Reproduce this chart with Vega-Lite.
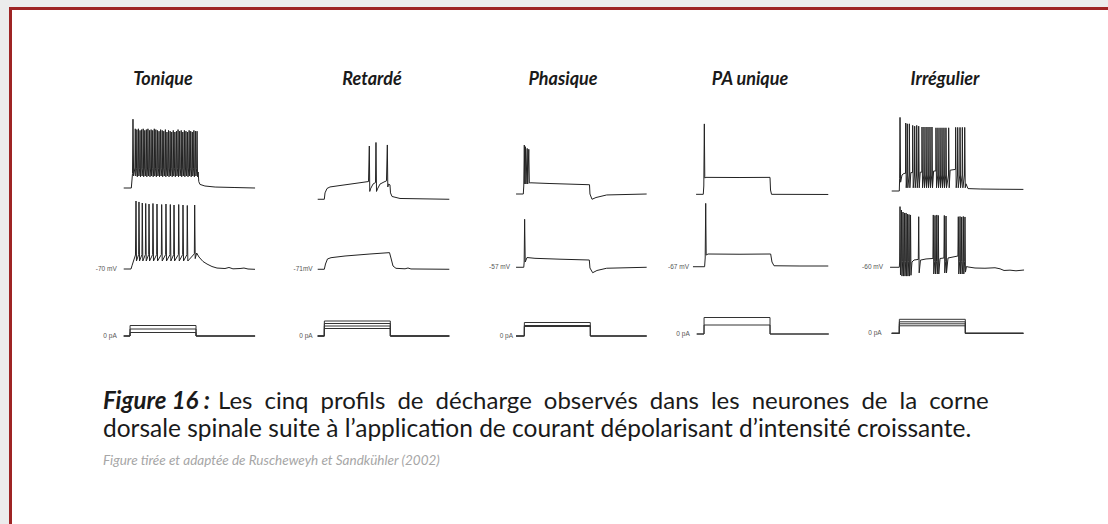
{
"$schema":"https://vega.github.io/schema/vega-lite/v6.json",
"padding":0,
"background":"#ffffff",
"config":{"view":{"stroke":null}},
"datasets":{
"T1":[{"t":-95,"v":-70},{"t":20,"v":-70},{"t":30,"v":-60},{"t":38,"v":-52},{"t":45,"v":16},{"t":55,"v":-55},
{"t":74,"v":-45},{"t":80,"v":4},{"t":87,"v":-55},{"t":98,"v":-46},{"t":104,"v":3},{"t":111,"v":-56},
{"t":122,"v":-45},{"t":128,"v":4},{"t":135,"v":-55},{"t":146,"v":-46},{"t":152,"v":2},{"t":159,"v":-56},
{"t":170,"v":-45},{"t":176,"v":3},{"t":183,"v":-55},{"t":194,"v":-46},{"t":200,"v":4},{"t":207,"v":-56},
{"t":218,"v":-45},{"t":224,"v":2},{"t":231,"v":-55},{"t":242,"v":-46},{"t":248,"v":3},{"t":255,"v":-56},
{"t":266,"v":-45},{"t":272,"v":4},{"t":279,"v":-55},{"t":290,"v":-46},{"t":296,"v":2},{"t":303,"v":-56},
{"t":314,"v":-45},{"t":320,"v":3},{"t":327,"v":-55},{"t":338,"v":-46},{"t":344,"v":2},{"t":351,"v":-56},
{"t":362,"v":-45},{"t":368,"v":4},{"t":375,"v":-55},{"t":386,"v":-46},{"t":392,"v":3},{"t":399,"v":-56},
{"t":410,"v":-45},{"t":416,"v":2},{"t":423,"v":-55},{"t":434,"v":-46},{"t":440,"v":1},{"t":447,"v":-56},
{"t":458,"v":-45},{"t":464,"v":3},{"t":471,"v":-55},{"t":482,"v":-46},{"t":488,"v":2},{"t":495,"v":-56},
{"t":506,"v":-45},{"t":512,"v":1},{"t":519,"v":-55},{"t":530,"v":-46},{"t":536,"v":3},{"t":543,"v":-56},
{"t":554,"v":-45},{"t":560,"v":0},{"t":567,"v":-55},{"t":578,"v":-46},{"t":584,"v":2},{"t":591,"v":-56},
{"t":602,"v":-45},{"t":608,"v":1},{"t":615,"v":-55},{"t":626,"v":-46},{"t":632,"v":0},{"t":639,"v":-56},
{"t":650,"v":-45},{"t":656,"v":2},{"t":663,"v":-55},{"t":674,"v":-46},{"t":680,"v":0},{"t":687,"v":-56},
{"t":698,"v":-45},{"t":704,"v":1},{"t":711,"v":-55},{"t":722,"v":-46},{"t":728,"v":3},{"t":735,"v":-56},
{"t":746,"v":-45},{"t":752,"v":1},{"t":759,"v":-55},{"t":770,"v":-46},{"t":776,"v":2},{"t":783,"v":-56},
{"t":794,"v":-45},{"t":800,"v":0},{"t":807,"v":-55},{"t":818,"v":-46},{"t":824,"v":2},{"t":831,"v":-56},
{"t":842,"v":-45},{"t":848,"v":1},{"t":855,"v":-55},{"t":866,"v":-46},{"t":872,"v":0},{"t":879,"v":-56},
{"t":890,"v":-45},{"t":896,"v":2},{"t":903,"v":-55},{"t":914,"v":-46},{"t":920,"v":1},{"t":927,"v":-56},
{"t":938,"v":-45},{"t":944,"v":0},{"t":951,"v":-55},{"t":962,"v":-46},{"t":968,"v":2},{"t":975,"v":-56},
{"t":986,"v":-45},{"t":992,"v":1},{"t":999,"v":-55},{"t":1010,"v":-46},{"t":1016,"v":1},{"t":1023,"v":-56},
{"t":1033,"v":-50},{"t":1042,"v":-62},{"t":1060,"v":-65.5},{"t":1135,"v":-67.5},{"t":1290,"v":-68.8},{"t":1590,"v":-69.4},{"t":1895,"v":-70}],
"T2":[{"t":-95,"v":-70},{"t":15,"v":-70},{"t":30,"v":-66},{"t":53,"v":-60},{"t":83,"v":-52.5},{"t":91,"v":15},{"t":98,"v":-60},
{"t":131,"v":-52},{"t":136,"v":13.8},{"t":144,"v":-60},{"t":181,"v":-52},{"t":186,"v":12.5},{"t":194,"v":-60},
{"t":233,"v":-52},{"t":238,"v":11.9},{"t":246,"v":-60},{"t":283,"v":-52},{"t":288,"v":11.2},{"t":296,"v":-60},
{"t":343,"v":-52},{"t":348,"v":11.9},{"t":356,"v":-60},{"t":404,"v":-52},{"t":409,"v":11.2},{"t":417,"v":-60},
{"t":475,"v":-52},{"t":480,"v":10.6},{"t":488,"v":-60},{"t":540,"v":-52},{"t":545,"v":11.2},{"t":553,"v":-60},
{"t":606,"v":-52},{"t":611,"v":10.6},{"t":619,"v":-60},{"t":662,"v":-52},{"t":667,"v":10},{"t":675,"v":-60},
{"t":733,"v":-52},{"t":738,"v":10.6},{"t":746,"v":-60},{"t":798,"v":-52},{"t":803,"v":10},{"t":811,"v":-60},
{"t":863,"v":-52},{"t":868,"v":9.4},{"t":876,"v":-60},{"t":975,"v":-51},{"t":980,"v":10},{"t":988,"v":-57},
{"t":1010,"v":-50},{"t":1045,"v":-55},{"t":1106,"v":-60.6},{"t":1167,"v":-63.8},{"t":1242,"v":-66.9},{"t":1318,"v":-68.8},{"t":1439,"v":-69.4},{"t":1500,"v":-68.1},{"t":1560,"v":-69.8},{"t":1667,"v":-69.4},{"t":1727,"v":-68.8},{"t":1788,"v":-70},{"t":1894,"v":-70.4}],
"T3":[{"s":1,"t":-95,"i":0},{"s":1,"t":0,"i":0},{"s":1,"t":1,"i":35},{"s":1,"t":1000,"i":35},{"s":1,"t":1001,"i":0},{"s":1,"t":1895,"i":0},
{"s":2,"t":-95,"i":0},{"s":2,"t":0,"i":0},{"s":2,"t":1,"i":70},{"s":2,"t":1000,"i":70},{"s":2,"t":1001,"i":0},{"s":2,"t":1895,"i":0},
{"s":3,"t":-95,"i":0},{"s":3,"t":0,"i":0},{"s":3,"t":1,"i":105},{"s":3,"t":1000,"i":105},{"s":3,"t":1001,"i":0},{"s":3,"t":1895,"i":0}],
"R1":[{"t":-100,"v":-71},{"t":0,"v":-71},{"t":11,"v":-63},{"t":41,"v":-57.5},{"t":86,"v":-55.6},{"t":238,"v":-53.8},{"t":465,"v":-51.2},{"t":670,"v":-48.8},{"t":682,"v":-4.4},{"t":689,"v":-61.2},{"t":700,"v":-58},{"t":738,"v":-52},{"t":776,"v":-50},{"t":783,"v":0},{"t":791,"v":-61.2},{"t":806,"v":-58},{"t":844,"v":-52},{"t":904,"v":-49.4},{"t":942,"v":-48},{"t":955,"v":-3.1},{"t":962,"v":-55.6},{"t":973,"v":-52},{"t":995,"v":-53},{"t":1003,"v":-63},{"t":1026,"v":-67.5},{"t":1147,"v":-70},{"t":1894,"v":-71}],
"R2":[{"t":-100,"v":-71},{"t":0,"v":-71},{"t":18,"v":-64.4},{"t":48,"v":-58.1},{"t":102,"v":-56.5},{"t":314,"v":-54.4},{"t":692,"v":-51.9},{"t":988,"v":-50.2},{"t":1010,"v":-56.9},{"t":1041,"v":-66.9},{"t":1086,"v":-69.8},{"t":1223,"v":-70.4},{"t":1268,"v":-69.4},{"t":1313,"v":-70.6},{"t":1894,"v":-71}],
"R3":[{"s":1,"t":-100,"i":0},{"s":1,"t":0,"i":0},{"s":1,"t":1,"i":75},{"s":1,"t":1000,"i":75},{"s":1,"t":1001,"i":0},{"s":1,"t":1894,"i":0},
{"s":2,"t":-100,"i":0},{"s":2,"t":0,"i":0},{"s":2,"t":1,"i":100},{"s":2,"t":1000,"i":100},{"s":2,"t":1001,"i":0},{"s":2,"t":1894,"i":0},
{"s":3,"t":-100,"i":0},{"s":3,"t":0,"i":0},{"s":3,"t":1,"i":125},{"s":3,"t":1000,"i":125},{"s":3,"t":1001,"i":0},{"s":3,"t":1894,"i":0},
{"s":4,"t":-100,"i":0},{"s":4,"t":0,"i":0},{"s":4,"t":1,"i":150},{"s":4,"t":1000,"i":150},{"s":4,"t":1001,"i":0},{"s":4,"t":1894,"i":0}],
"P1":[{"t":-125,"v":-57},{"t":-15,"v":-57},{"t":-8,"v":-47},{"t":0,"v":4.2},{"t":8,"v":-44.5},{"t":18,"v":2.1},{"t":26,"v":-44.5},{"t":44,"v":0},{"t":52,"v":-44.5},{"t":68,"v":-1.1},{"t":76,"v":-43.2},{"t":101,"v":-43},{"t":389,"v":-43.9},{"t":988,"v":-45.4},{"t":995,"v":-57},{"t":1026,"v":-63.6},{"t":1086,"v":-61.4},{"t":1248,"v":-58.2},{"t":1854,"v":-57}],
"P2":[{"t":-125,"v":-57},{"t":-8,"v":-57},{"t":-2,"v":-50.4},{"t":5,"v":3},{"t":14,"v":-50.4},{"t":41,"v":-44.8},{"t":162,"v":-45.8},{"t":541,"v":-46.9},{"t":985,"v":-47.9},{"t":995,"v":-57.9},{"t":1036,"v":-63.8},{"t":1101,"v":-61},{"t":1248,"v":-58.2},{"t":1854,"v":-57}],
"P3":[{"s":1,"t":-125,"i":0},{"s":1,"t":0,"i":0},{"s":1,"t":1,"i":95},{"s":1,"t":1000,"i":95},{"s":1,"t":1001,"i":0},{"s":1,"t":1854,"i":0},
{"s":2,"t":-125,"i":0},{"s":2,"t":0,"i":0},{"s":2,"t":1,"i":105},{"s":2,"t":1000,"i":105},{"s":2,"t":1001,"i":0},{"s":2,"t":1854,"i":0},
{"s":3,"t":-125,"i":0},{"s":3,"t":0,"i":0},{"s":3,"t":1,"i":135},{"s":3,"t":1000,"i":135},{"s":3,"t":1001,"i":0},{"s":3,"t":1854,"i":0}],
"A1":[{"t":-120,"v":-67},{"t":-11,"v":-67},{"t":-3,"v":-56.6},{"t":5,"v":21},{"t":12,"v":-46.6},{"t":30,"v":-45.8},{"t":545,"v":-46},{"t":1000,"v":-45.8},{"t":1008,"v":-61.6},{"t":1023,"v":-67},{"t":1883,"v":-67.2}],
"A2":[{"t":-167,"v":-67},{"t":9,"v":-67},{"t":18,"v":-56.1},{"t":26,"v":12.2},{"t":33,"v":-52.4},{"t":61,"v":-51.1},{"t":545,"v":-51.4},{"t":1010,"v":-51.1},{"t":1030,"v":-61.1},{"t":1061,"v":-65.8},{"t":1454,"v":-66.1},{"t":1883,"v":-66.1}],
"A3":[{"s":1,"t":-110,"i":0},{"s":1,"t":0,"i":0},{"s":1,"t":1,"i":90},{"s":1,"t":1000,"i":90},{"s":1,"t":1001,"i":0},{"s":1,"t":1890,"i":0},
{"s":2,"t":-110,"i":0},{"s":2,"t":0,"i":0},{"s":2,"t":1,"i":165},{"s":2,"t":1000,"i":165},{"s":2,"t":1001,"i":0},{"s":2,"t":1890,"i":0}],
"I1":[{"t":-115,"v":-60},{"t":0,"v":-60},{"t":5,"v":-44},{"t":11,"v":32},{"t":20,"v":-49},{"t":41,"v":-40},{"t":71,"v":-38},
{"t":94,"v":-38},{"t":97,"v":25},{"t":105,"v":-56},{"t":118,"v":-40},{"t":121,"v":24},{"t":129,"v":-56},{"t":149,"v":-40},{"t":152,"v":24},{"t":160,"v":-56},{"t":175,"v":-37},
{"t":200,"v":-37},{"t":203,"v":22},{"t":211,"v":-56},{"t":230,"v":-40},{"t":233,"v":21},{"t":241,"v":-56},{"t":261,"v":-40},{"t":264,"v":22},{"t":272,"v":-56},{"t":291,"v":-40},{"t":294,"v":21},{"t":302,"v":-56},{"t":317,"v":-36.5},
{"t":341,"v":-36.5},{"t":344,"v":20},{"t":352,"v":-56},{"t":371,"v":-40},{"t":374,"v":20},{"t":382,"v":-56},{"t":402,"v":-40},{"t":405,"v":20},{"t":413,"v":-56},{"t":432,"v":-40},{"t":435,"v":20},{"t":443,"v":-56},{"t":462,"v":-40},{"t":465,"v":20},{"t":473,"v":-56},{"t":492,"v":-40},{"t":495,"v":20},{"t":503,"v":-56},{"t":520,"v":-35},
{"t":553,"v":-35},{"t":556,"v":19},{"t":564,"v":-56},{"t":583,"v":-40},{"t":586,"v":19},{"t":594,"v":-56},{"t":614,"v":-40},{"t":617,"v":19},{"t":625,"v":-56},{"t":644,"v":-40},{"t":647,"v":19},{"t":655,"v":-56},{"t":674,"v":-40},{"t":677,"v":19},{"t":685,"v":-56},{"t":704,"v":-40},{"t":707,"v":19},{"t":715,"v":-56},{"t":745,"v":-40},{"t":748,"v":19},{"t":756,"v":-56},{"t":770,"v":-34},
{"t":851,"v":-33},{"t":854,"v":19.5},{"t":862,"v":-56},{"t":882,"v":-40},{"t":885,"v":19.5},{"t":893,"v":-56},{"t":917,"v":-40},{"t":920,"v":19.5},{"t":928,"v":-56},{"t":952,"v":-40},{"t":955,"v":19.5},{"t":963,"v":-56},{"t":988,"v":-40},{"t":991,"v":19.5},{"t":999,"v":-56},
{"t":1010,"v":-51},{"t":1041,"v":-57},{"t":1225,"v":-57.5},{"t":1525,"v":-57.8},{"t":1880,"v":-58}],
"I2":[{"t":-140,"v":-60},{"t":0,"v":-60},{"t":5,"v":-53.4},{"t":11,"v":15.8},{"t":18,"v":-69.6},
{"t":28,"v":-53},{"t":33,"v":11.6},{"t":40,"v":-71},{"t":51,"v":-53},{"t":56,"v":9.1},{"t":63,"v":-71},{"t":74,"v":-53},{"t":79,"v":7.9},{"t":86,"v":-71},{"t":97,"v":-53},{"t":102,"v":7.9},{"t":109,"v":-71},{"t":119,"v":-53},{"t":124,"v":6.6},{"t":131,"v":-71},{"t":142,"v":-53},{"t":147,"v":6},{"t":154,"v":-71},{"t":165,"v":-53},{"t":170,"v":5.4},{"t":177,"v":-70},
{"t":192,"v":-53.4},{"t":223,"v":-50.9},{"t":288,"v":-50.2},{"t":294,"v":3.2},{"t":301,"v":-67},{"t":321,"v":-51},{"t":405,"v":-49.6},{"t":509,"v":-49},
{"t":515,"v":5.4},{"t":522,"v":-68.4},{"t":536,"v":-53},{"t":541,"v":4.8},{"t":548,"v":-68.4},{"t":563,"v":-53},{"t":568,"v":5.4},{"t":575,"v":-68.4},{"t":586,"v":-53},{"t":591,"v":4.8},{"t":598,"v":-68.4},
{"t":617,"v":-49},{"t":676,"v":-48.4},{"t":682,"v":4.8},{"t":689,"v":-67.1},{"t":703,"v":-53},{"t":708,"v":4.1},{"t":715,"v":-67.1},
{"t":738,"v":-48.4},{"t":888,"v":-45.9},{"t":894,"v":3.2},{"t":901,"v":-68.4},{"t":915,"v":-53},{"t":920,"v":3.5},{"t":927,"v":-68.4},{"t":940,"v":-53},{"t":945,"v":2.9},{"t":952,"v":-68.4},{"t":965,"v":-53},{"t":970,"v":3.5},{"t":977,"v":-68.4},{"t":990,"v":-53},{"t":995,"v":2.9},{"t":1002,"v":-66},
{"t":1018,"v":-59},{"t":1041,"v":-59.6},{"t":1147,"v":-60.9},{"t":1298,"v":-61.2},{"t":1450,"v":-60.6},{"t":1526,"v":-61.9},{"t":1587,"v":-64},{"t":1677,"v":-63.6},{"t":1768,"v":-64.4},{"t":1890,"v":-63.4}],
"I3":[{"s":1,"t":-115,"i":0},{"s":1,"t":0,"i":0},{"s":1,"t":1,"i":75},{"s":1,"t":1000,"i":75},{"s":1,"t":1001,"i":0},{"s":1,"t":1880,"i":0},
{"s":2,"t":-115,"i":0},{"s":2,"t":0,"i":0},{"s":2,"t":1,"i":95},{"s":2,"t":1000,"i":95},{"s":2,"t":1001,"i":0},{"s":2,"t":1880,"i":0},
{"s":3,"t":-115,"i":0},{"s":3,"t":0,"i":0},{"s":3,"t":1,"i":115},{"s":3,"t":1000,"i":115},{"s":3,"t":1001,"i":0},{"s":3,"t":1880,"i":0},
{"s":4,"t":-115,"i":0},{"s":4,"t":0,"i":0},{"s":4,"t":1,"i":140},{"s":4,"t":1000,"i":140},{"s":4,"t":1001,"i":0},{"s":4,"t":1880,"i":0}],
"one":[{"a":0}]
},
"columns":7,
"spacing":0,
"bounds":"flush",
"align":"each",
"concat":[
{"width":9,"height":7,"view":{"fill":"#ececec"},"data":{"name":"one"},"mark":{"type":"point","opacity":0,"size":0}},
{"width":3,"height":7,"view":{"fill":"#ececec"},"data":{"name":"one"},"mark":{"type":"point","opacity":0,"size":0}},
{"width":273,"height":7,"view":{"fill":"#ececec"},"data":{"name":"one"},"mark":{"type":"point","opacity":0,"size":0}},
{"width":195,"height":7,"view":{"fill":"#ececec"},"data":{"name":"one"},"mark":{"type":"point","opacity":0,"size":0}},
{"width":180,"height":7,"view":{"fill":"#ececec"},"data":{"name":"one"},"mark":{"type":"point","opacity":0,"size":0}},
{"width":190,"height":7,"view":{"fill":"#ececec"},"data":{"name":"one"},"mark":{"type":"point","opacity":0,"size":0}},
{"width":268,"height":7,"view":{"fill":"#ececec"},"data":{"name":"one"},"mark":{"type":"point","opacity":0,"size":0}},

{"width":9,"height":3,"view":{"fill":"#ececec"},"data":{"name":"one"},"mark":{"type":"point","opacity":0,"size":0}},
{"width":3,"height":3,"view":{"fill":"#9e2424"},"data":{"name":"one"},"mark":{"type":"point","opacity":0,"size":0}},
{"width":273,"height":3,"view":{"fill":"#9e2424"},"data":{"name":"one"},"mark":{"type":"point","opacity":0,"size":0}},
{"width":195,"height":3,"view":{"fill":"#9e2424"},"data":{"name":"one"},"mark":{"type":"point","opacity":0,"size":0}},
{"width":180,"height":3,"view":{"fill":"#9e2424"},"data":{"name":"one"},"mark":{"type":"point","opacity":0,"size":0}},
{"width":190,"height":3,"view":{"fill":"#9e2424"},"data":{"name":"one"},"mark":{"type":"point","opacity":0,"size":0}},
{"width":268,"height":3,"view":{"fill":"#9e2424"},"data":{"name":"one"},"mark":{"type":"point","opacity":0,"size":0}},

{"width":9,"height":200,"view":{"fill":"#ececec"},"data":{"name":"one"},"mark":{"type":"point","opacity":0,"size":0}},
{"width":3,"height":200,"view":{"fill":"#9e2424"},"data":{"name":"one"},"mark":{"type":"point","opacity":0,"size":0}},
{"width":273,"height":200,
 "title":{"text":"Tonique","orient":"top","anchor":"start","align":"center","frame":"group","offset":0,"baseline":"middle","dx":151,"dy":88,"font":"Lato","fontSize":18,"fontStyle":"italic","fontWeight":"bold","color":"#1a1a1a"},
 "data":{"name":"T1"},"mark":{"type":"line","color":"#222222","strokeWidth":1},
 "encoding":{"x":{"field":"t","type":"quantitative","scale":{"domain":[-1787.9,2348.5],"nice":false,"zero":false},"axis":null},
             "y":{"field":"v","type":"quantitative","scale":{"domain":[-97.5,152.5],"nice":false,"zero":false},"axis":null}}},
{"width":195,"height":200,
 "title":{"text":"Retardé","orient":"top","anchor":"start","align":"center","frame":"group","offset":0,"baseline":"middle","dx":87,"dy":88,"font":"Lato","fontSize":18,"fontStyle":"italic","fontWeight":"bold","color":"#1a1a1a"},
 "data":{"name":"R1"},"mark":{"type":"line","color":"#222222","strokeWidth":1},
 "encoding":{"x":{"field":"t","type":"quantitative","scale":{"domain":[-595.5,2359],"nice":false,"zero":false},"axis":null},
             "y":{"field":"v","type":"quantitative","scale":{"domain":[-84.4,165.6],"nice":false,"zero":false},"axis":null}}},
{"width":180,"height":200,
 "title":{"text":"Phasique","orient":"top","anchor":"start","align":"center","frame":"group","offset":0,"baseline":"middle","dx":83,"dy":88,"font":"Lato","fontSize":18,"fontStyle":"italic","fontWeight":"bold","color":"#1a1a1a"},
 "data":{"name":"P1"},"mark":{"type":"line","color":"#222222","strokeWidth":1},
 "encoding":{"x":{"field":"t","type":"quantitative","scale":{"domain":[-671.2,2056.1],"nice":false,"zero":false},"axis":null},
             "y":{"field":"v","type":"quantitative","scale":{"domain":[-77,173],"nice":false,"zero":false},"axis":null}}},
{"width":190,"height":200,
 "title":{"text":"PA unique","orient":"top","anchor":"start","align":"center","frame":"group","offset":0,"baseline":"middle","dx":90,"dy":88,"font":"Lato","fontSize":18,"fontStyle":"italic","fontWeight":"bold","color":"#1a1a1a"},
 "data":{"name":"A1"},"mark":{"type":"line","color":"#222222","strokeWidth":1},
 "encoding":{"x":{"field":"t","type":"quantitative","scale":{"domain":[-666.7,2212.1],"nice":false,"zero":false},"axis":null},
             "y":{"field":"v","type":"quantitative","scale":{"domain":[-86.6,163.4],"nice":false,"zero":false},"axis":null}}},
{"width":268,"height":200,
 "title":{"text":"Irrégulier","orient":"top","anchor":"start","align":"center","frame":"group","offset":0,"baseline":"middle","dx":95,"dy":88,"font":"Lato","fontSize":18,"fontStyle":"italic","fontWeight":"bold","color":"#1a1a1a"},
 "data":{"name":"I1"},"mark":{"type":"line","color":"#222222","strokeWidth":1},
 "encoding":{"x":{"field":"t","type":"quantitative","scale":{"domain":[-747,3313.6],"nice":false,"zero":false},"axis":null},
             "y":{"field":"v","type":"quantitative","scale":{"domain":[-83.75,166.25],"nice":false,"zero":false},"axis":null}}},

{"width":9,"height":80,"view":{"fill":"#ececec"},"data":{"name":"one"},"mark":{"type":"point","opacity":0,"size":0}},
{"width":3,"height":80,"view":{"fill":"#9e2424"},"data":{"name":"one"},"mark":{"type":"point","opacity":0,"size":0}},
{"width":273,"height":80,
 "encoding":{"x":{"field":"t","type":"quantitative","scale":{"domain":[-1787.9,2348.5],"nice":false,"zero":false},"axis":null},
             "y":{"field":"v","type":"quantitative","scale":{"domain":[-96.25,3.75],"nice":false,"zero":false},"axis":null}},
 "layer":[
  {"data":{"name":"T2"},"mark":{"type":"line","color":"#222222","strokeWidth":1},"encoding":{}},
  {"data":{"values":[{"t":-95,"v":-70,"lab":"-70 mV"}]},"mark":{"type":"text","align":"right","baseline":"middle","dx":-7,"font":"Liberation Sans","fontSize":6.5,"color":"#555555"},"encoding":{"text":{"field":"lab"}}}]},
{"width":195,"height":80,
 "encoding":{"x":{"field":"t","type":"quantitative","scale":{"domain":[-595.5,2359],"nice":false,"zero":false},"axis":null},
             "y":{"field":"v","type":"quantitative","scale":{"domain":[-96.9,3.1],"nice":false,"zero":false},"axis":null}},
 "layer":[
  {"data":{"name":"R2"},"mark":{"type":"line","color":"#222222","strokeWidth":1},"encoding":{}},
  {"data":{"values":[{"t":-100,"v":-71,"lab":"-71mV"}]},"mark":{"type":"text","align":"right","baseline":"middle","dx":-5,"font":"Liberation Sans","fontSize":6.5,"color":"#555555"},"encoding":{"text":{"field":"lab"}}}]},
{"width":180,"height":80,
 "encoding":{"x":{"field":"t","type":"quantitative","scale":{"domain":[-671.2,2056.1],"nice":false,"zero":false},"axis":null},
             "y":{"field":"v","type":"quantitative","scale":{"domain":[-85.4,14.6],"nice":false,"zero":false},"axis":null}},
 "layer":[
  {"data":{"name":"P2"},"mark":{"type":"line","color":"#222222","strokeWidth":1},"encoding":{}},
  {"data":{"values":[{"t":-125,"v":-57,"lab":"-57 mV"}]},"mark":{"type":"text","align":"right","baseline":"middle","dx":-6,"font":"Liberation Sans","fontSize":6.5,"color":"#555555"},"encoding":{"text":{"field":"lab"}}}]},
{"width":190,"height":80,
 "encoding":{"x":{"field":"t","type":"quantitative","scale":{"domain":[-666.7,2212.1],"nice":false,"zero":false},"axis":null},
             "y":{"field":"v","type":"quantitative","scale":{"domain":[-96.1,3.9],"nice":false,"zero":false},"axis":null}},
 "layer":[
  {"data":{"name":"A2"},"mark":{"type":"line","color":"#222222","strokeWidth":1},"encoding":{}},
  {"data":{"values":[{"t":-167,"v":-67,"lab":"-67 mV"}]},"mark":{"type":"text","align":"right","baseline":"middle","dx":-4,"font":"Liberation Sans","fontSize":6.5,"color":"#555555"},"encoding":{"text":{"field":"lab"}}}]},
{"width":268,"height":80,
 "encoding":{"x":{"field":"t","type":"quantitative","scale":{"domain":[-747,3313.6],"nice":false,"zero":false},"axis":null},
             "y":{"field":"v","type":"quantitative","scale":{"domain":[-88.4,11.6],"nice":false,"zero":false},"axis":null}},
 "layer":[
  {"data":{"name":"I2"},"mark":{"type":"line","color":"#222222","strokeWidth":1},"encoding":{}},
  {"data":{"values":[{"t":-140,"v":-60,"lab":"-60 mV"}]},"mark":{"type":"text","align":"right","baseline":"middle","dx":-7,"font":"Liberation Sans","fontSize":6.5,"color":"#555555"},"encoding":{"text":{"field":"lab"}}}]},

{"width":9,"height":70,"view":{"fill":"#ececec"},"data":{"name":"one"},"mark":{"type":"point","opacity":0,"size":0}},
{"width":3,"height":70,"view":{"fill":"#9e2424"},"data":{"name":"one"},"mark":{"type":"point","opacity":0,"size":0}},
{"width":273,"height":70,
 "encoding":{"x":{"field":"t","type":"quantitative","scale":{"domain":[-1787.9,2348.5],"nice":false,"zero":false},"axis":null},
             "y":{"field":"i","type":"quantitative","scale":{"domain":[-240,460],"nice":false,"zero":false},"axis":null}},
 "layer":[
  {"data":{"name":"T3"},"mark":{"type":"line","color":"#333333","strokeWidth":1},"encoding":{"detail":{"field":"s","type":"nominal"}}},
  {"data":{"values":[{"t":-95,"i":0,"lab":"0 pA"}]},"mark":{"type":"text","align":"right","baseline":"middle","dx":-7,"font":"Liberation Sans","fontSize":6.5,"color":"#555555"},"encoding":{"text":{"field":"lab"}}}]},
{"width":195,"height":70,
 "encoding":{"x":{"field":"t","type":"quantitative","scale":{"domain":[-595.5,2359],"nice":false,"zero":false},"axis":null},
             "y":{"field":"i","type":"quantitative","scale":{"domain":[-240,460],"nice":false,"zero":false},"axis":null}},
 "layer":[
  {"data":{"name":"R3"},"mark":{"type":"line","color":"#333333","strokeWidth":1},"encoding":{"detail":{"field":"s","type":"nominal"}}},
  {"data":{"values":[{"t":-100,"i":0,"lab":"0 pA"}]},"mark":{"type":"text","align":"right","baseline":"middle","dx":-5,"font":"Liberation Sans","fontSize":6.5,"color":"#555555"},"encoding":{"text":{"field":"lab"}}}]},
{"width":180,"height":70,
 "encoding":{"x":{"field":"t","type":"quantitative","scale":{"domain":[-671.2,2056.1],"nice":false,"zero":false},"axis":null},
             "y":{"field":"i","type":"quantitative","scale":{"domain":[-240,460],"nice":false,"zero":false},"axis":null}},
 "layer":[
  {"data":{"name":"P3"},"mark":{"type":"line","color":"#333333","strokeWidth":1},"encoding":{"detail":{"field":"s","type":"nominal"}}},
  {"data":{"values":[{"t":-125,"i":0,"lab":"0 pA"}]},"mark":{"type":"text","align":"right","baseline":"middle","dx":-3,"font":"Liberation Sans","fontSize":6.5,"color":"#555555"},"encoding":{"text":{"field":"lab"}}}]},
{"width":190,"height":70,
 "encoding":{"x":{"field":"t","type":"quantitative","scale":{"domain":[-666.7,2212.1],"nice":false,"zero":false},"axis":null},
             "y":{"field":"i","type":"quantitative","scale":{"domain":[-260,440],"nice":false,"zero":false},"axis":null}},
 "layer":[
  {"data":{"name":"A3"},"mark":{"type":"line","color":"#333333","strokeWidth":1},"encoding":{"detail":{"field":"s","type":"nominal"}}},
  {"data":{"values":[{"t":-110,"i":0,"lab":"0 pA"}]},"mark":{"type":"text","align":"right","baseline":"middle","dx":-7,"font":"Liberation Sans","fontSize":6.5,"color":"#555555"},"encoding":{"text":{"field":"lab"}}}]},
{"width":268,"height":70,
 "encoding":{"x":{"field":"t","type":"quantitative","scale":{"domain":[-747,3313.6],"nice":false,"zero":false},"axis":null},
             "y":{"field":"i","type":"quantitative","scale":{"domain":[-267,433],"nice":false,"zero":false},"axis":null}},
 "layer":[
  {"data":{"name":"I3"},"mark":{"type":"line","color":"#333333","strokeWidth":1},"encoding":{"detail":{"field":"s","type":"nominal"}}},
  {"data":{"values":[{"t":-115,"i":0,"lab":"0 pA"}]},"mark":{"type":"text","align":"right","baseline":"middle","dx":-10,"font":"Liberation Sans","fontSize":6.5,"color":"#555555"},"encoding":{"text":{"field":"lab"}}}]},

{"width":9,"height":30,"view":{"fill":"#ececec"},"data":{"name":"one"},"mark":{"type":"point","opacity":0,"size":0}},
{"width":3,"height":30,"view":{"fill":"#9e2424"},"data":{"name":"one"},"mark":{"type":"point","opacity":0,"size":0}},
{"width":273,"height":30,"data":{"name":"one"},"mark":{"type":"point","opacity":0,"size":0},
 "title":{"text":"Figure 16 :","orient":"top","anchor":"start","align":"left","frame":"group","offset":0,"baseline":"alphabetic","dx":91,"dy":72.5,"font":"Lato","fontSize":24,"fontStyle":"italic","fontWeight":"bold","color":"#1a1a1a"}},
{"width":195,"height":30,"data":{"name":"one"},"mark":{"type":"point","opacity":0,"size":0},
 "title":{"text":"Les\u2002cinq\u2002profils\u2002de\u2002décharge\u2002observés\u2002dans\u2002les\u2002neurones\u2002de\u2002la\u2002corne","orient":"top","anchor":"start","align":"left","frame":"group","offset":0,"baseline":"alphabetic","dx":-67,"dy":72.5,"font":"Lato","fontSize":24,"fontStyle":"normal","fontWeight":"normal","color":"#1a1a1a"}},
{"width":1,"height":1,"data":{"name":"one"},"mark":{"type":"point","opacity":0,"size":0}},
{"width":1,"height":1,"data":{"name":"one"},"mark":{"type":"point","opacity":0,"size":0}},
{"width":1,"height":1,"data":{"name":"one"},"mark":{"type":"point","opacity":0,"size":0}},

{"width":9,"height":30,"view":{"fill":"#ececec"},"data":{"name":"one"},"mark":{"type":"point","opacity":0,"size":0}},
{"width":3,"height":30,"view":{"fill":"#9e2424"},"data":{"name":"one"},"mark":{"type":"point","opacity":0,"size":0}},
{"width":273,"height":30,"data":{"name":"one"},"mark":{"type":"point","opacity":0,"size":0},
 "title":{"text":"dorsale spinale suite à l’application de courant dépolarisant d’intensité croissante.","orient":"top","anchor":"start","align":"left","frame":"group","offset":0,"baseline":"alphabetic","dx":91,"dy":71.5,"font":"Lato","fontSize":24.5,"fontStyle":"normal","fontWeight":"normal","color":"#1a1a1a"}},
{"width":1,"height":1,"data":{"name":"one"},"mark":{"type":"point","opacity":0,"size":0}},
{"width":1,"height":1,"data":{"name":"one"},"mark":{"type":"point","opacity":0,"size":0}},
{"width":1,"height":1,"data":{"name":"one"},"mark":{"type":"point","opacity":0,"size":0}},
{"width":1,"height":1,"data":{"name":"one"},"mark":{"type":"point","opacity":0,"size":0}},

{"width":9,"height":110,"view":{"fill":"#ececec"},"data":{"name":"one"},"mark":{"type":"point","opacity":0,"size":0}},
{"width":3,"height":110,"view":{"fill":"#9e2424"},"data":{"name":"one"},"mark":{"type":"point","opacity":0,"size":0}},
{"width":273,"height":110,"data":{"name":"one"},"mark":{"type":"point","opacity":0,"size":0},
 "title":{"text":"Figure tirée et adaptée de Ruscheweyh et Sandkühler (2002)","orient":"top","anchor":"start","align":"left","frame":"group","offset":0,"baseline":"alphabetic","dx":91,"dy":58.5,"font":"Lato","fontSize":13.5,"fontStyle":"italic","fontWeight":"normal","color":"#a6a6a6"}},
{"width":1,"height":1,"data":{"name":"one"},"mark":{"type":"point","opacity":0,"size":0}},
{"width":1,"height":1,"data":{"name":"one"},"mark":{"type":"point","opacity":0,"size":0}},
{"width":1,"height":1,"data":{"name":"one"},"mark":{"type":"point","opacity":0,"size":0}},
{"width":1,"height":1,"data":{"name":"one"},"mark":{"type":"point","opacity":0,"size":0}}
]
}
